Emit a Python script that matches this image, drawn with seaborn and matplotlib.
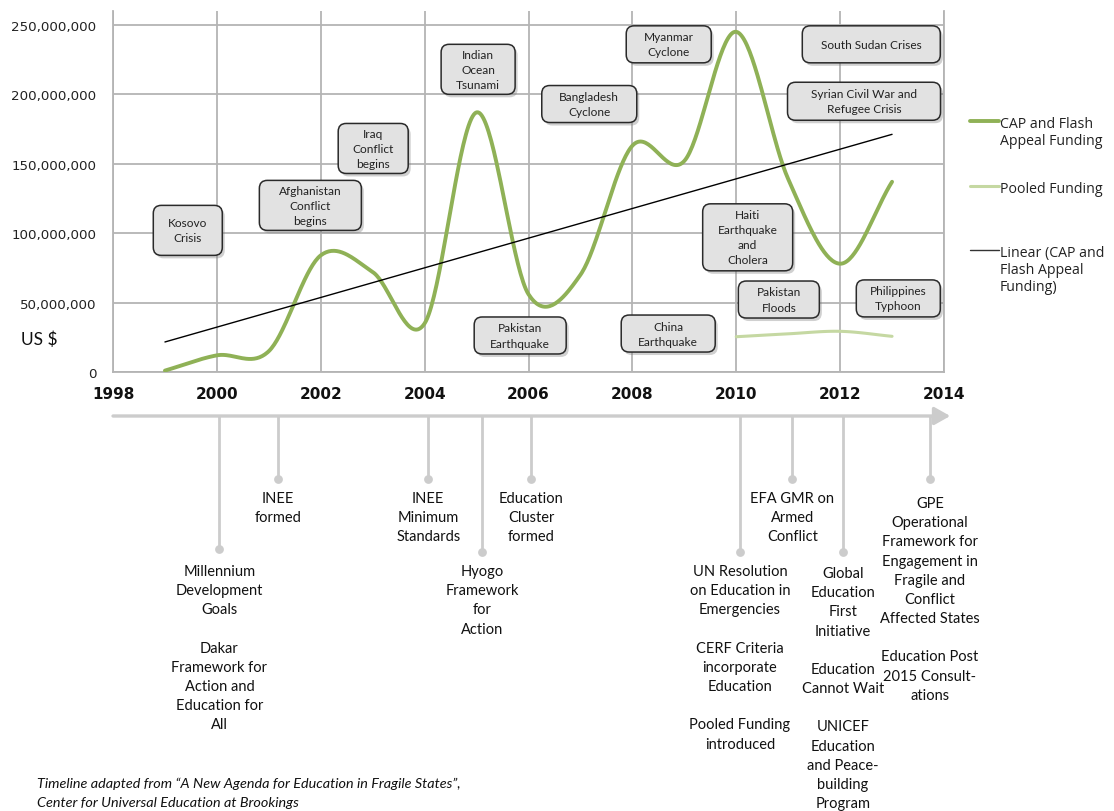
import numpy as np
import pandas as pd
import matplotlib
matplotlib.use("Agg")
import matplotlib.pyplot as plt
import matplotlib.transforms as mtransforms
from matplotlib.patches import FancyBboxPatch
from matplotlib.lines import Line2D
from matplotlib.ticker import FuncFormatter
import seaborn as sns

# ---------------- data ----------------
years = [1999, 2000, 2001, 2002, 2003, 2004, 2005, 2006, 2007, 2008, 2009, 2010, 2011, 2012, 2013]
cap_funding = [1e6, 12e6, 15e6, 84e6, 72e6, 35e6, 187e6, 56e6, 70e6, 163e6, 152e6, 245e6, 139e6, 78e6, 137e6]
pooled_years = [2010, 2011, 2012, 2013]
pooled_funding = [25.4e6, 27.5e6, 29.3e6, 25.7e6]
x_ticks = [1998, 2000, 2002, 2004, 2006, 2008, 2010, 2012, 2014]
y_ticks = [0, 50e6, 100e6, 150e6, 200e6, 250e6]

event_labels = ["Kosovo\nCrisis", "Afghanistan\nConflict\nbegins", "Iraq\nConflict\nbegins",
                "Indian\nOcean\nTsunami", "Bangladesh\nCyclone", "Myanmar\nCyclone",
                "South Sudan Crises", "Syrian Civil War and\nRefugee Crisis",
                "Haiti\nEarthquake\nand\nCholera", "Pakistan\nFloods", "Philippines\nTyphoon",
                "Pakistan\nEarthquake", "China\nEarthquake"]
event_x = [1999.44, 2001.8, 2003.01, 2005.03, 2007.17, 2008.70, 2012.6, 2012.46,
           2010.22, 2010.82, 2013.12, 2005.84, 2008.69]
event_y = [102e6, 120e6, 161e6, 218e6, 193e6, 236e6, 236e6, 195e6, 97e6, 52.2e6, 53e6, 26.3e6, 27.7e6]

timeline_labels = [
    "Millennium\nDevelopment\nGoals\n\nDakar\nFramework for\nAction and\nEducation for\nAll",
    "INEE\nformed",
    "INEE\nMinimum\nStandards",
    "Hyogo\nFramework\nfor\nAction",
    "Education\nCluster\nformed",
    "UN Resolution\non Education in\nEmergencies\n\nCERF Criteria\nincorporate\nEducation\n\nPooled Funding\nintroduced",
    "EFA GMR on\nArmed\nConflict",
    "Global\nEducation\nFirst\nInitiative\n\nEducation\nCannot Wait\n\nUNICEF\nEducation\nand Peace-\nbuilding\nProgram",
    "GPE\nOperational\nFramework for\nEngagement in\nFragile and\nConflict\nAffected States\n\nEducation Post\n2015 Consult-\nations",
]
timeline_x = [2000.05, 2001.17, 2004.07, 2005.11, 2006.05, 2010.07, 2011.08, 2012.05, 2013.73]

# ---------------- layout / style ----------------
event_box_px = [(69, 50), (102, 50), (70, 50), (74, 50), (95, 37), (85, 37), (138, 37), (153, 38),
                (90, 67), (81, 37), (84, 37), (92, 37), (94, 37)]
timeline_dot_px = [550, 480, 480, 553, 480, 553, 480, 553, 480]
timeline_text_px = [570, 497, 497, 570, 497, 570, 497, 572, 502]

GREEN = "#8fb156"
LIGHT_GREEN = "#c5d8a2"
GRID = "#b4b4b4"
TL_GRAY = "#cccccc"

sns.set_theme(style="white")
plt.rcParams["font.family"] = ["Lato", "DejaVu Sans"]


def smooth(x, y, n=40):
    """Excel-style smoothed line (Catmull-Rom / cubic Hermite through each point)."""
    x = np.asarray(x, float)
    y = np.asarray(y, float)
    m = np.empty_like(y)
    m[1:-1] = (y[2:] - y[:-2]) / 2
    m[0] = y[1] - y[0]
    m[-1] = y[-1] - y[-2]
    t = np.linspace(0, 1, n)
    h00 = 2 * t**3 - 3 * t**2 + 1
    h10 = t**3 - 2 * t**2 + t
    h01 = -2 * t**3 + 3 * t**2
    h11 = t**3 - t**2
    xs, ys = [], []
    for i in range(len(x) - 1):
        xs.append(x[i] + t * (x[i + 1] - x[i]))
        ys.append(h00 * y[i] + h10 * m[i] + h01 * y[i + 1] + h11 * m[i + 1])
    return np.concatenate(xs), np.concatenate(ys)


W, H = 1114, 812
fig = plt.figure(figsize=(W / 100, H / 100), dpi=100)
x_left, x_right, y_zero, y_top = 113, 944, 373, 12
ax = fig.add_axes([x_left / W, 1 - y_zero / H, (x_right - x_left) / W, (y_zero - y_top) / H])

cx, cy = smooth(years, cap_funding)
px, py = smooth(pooled_years, pooled_funding)
slope, intercept = np.polyfit(years, cap_funding, 1)
trend_x = np.array([years[0], years[-1]], float)
trend_y = slope * trend_x + intercept

df_cap = pd.DataFrame({"year": cx, "value": cy})
df_pool = pd.DataFrame({"year": px, "value": py})
df_trend = pd.DataFrame({"year": trend_x, "value": trend_y})

sns.lineplot(data=df_cap, x="year", y="value", ax=ax, color=GREEN, lw=2.8, sort=False,
             estimator=None, zorder=3)
sns.lineplot(data=df_pool, x="year", y="value", ax=ax, color=LIGHT_GREEN, lw=2.2, sort=False,
             estimator=None, zorder=3)
sns.lineplot(data=df_trend, x="year", y="value", ax=ax, color="black", lw=1.0, sort=False,
             estimator=None, zorder=3)

ax.set_xlim(1998, 2014)
ax.set_ylim(0, 260e6)
ax.set_xticks(x_ticks)
ax.set_yticks(y_ticks)
ax.yaxis.set_major_formatter(FuncFormatter(lambda v, p: f"{v:,.0f}"))
ax.grid(True, color=GRID, lw=1.3)
ax.set_axisbelow(True)
for s in ["left", "bottom", "right"]:
    ax.spines[s].set_color(GRID)
    ax.spines[s].set_linewidth(1.3)
ax.spines["top"].set_visible(False)
ax.tick_params(axis="both", direction="out", length=4, width=1.3, color=GRID)
ax.tick_params(axis="y", pad=8, labelsize=9.6, labelcolor="#222222")
ax.tick_params(axis="x", pad=6, labelsize=11, labelcolor="#111111")
for lab in ax.get_yticklabels():
    lab.set_fontfamily("DejaVu Sans")
for lab in ax.get_xticklabels():
    lab.set_fontfamily("DejaVu Sans")
    lab.set_fontweight("bold")
ax.set_xlabel("")
ax.set_ylabel("")

fig.text(39 / W, 1 - 340 / H, "US $", ha="center", va="center", fontsize=12.5, color="#111111")

# event boxes
for lab, xc, yc, (bw, bh) in zip(event_labels, event_x, event_y, event_box_px):
    base = fig.dpi_scale_trans + mtransforms.ScaledTranslation(xc, yc, ax.transData)
    wi, hi = bw / 100, bh / 100
    shadow = FancyBboxPatch((-wi / 2 + 0.025, -hi / 2 - 0.03), wi, hi,
                            boxstyle="round,pad=0,rounding_size=0.08",
                            transform=base, facecolor="#7a7a7a", edgecolor="none",
                            alpha=0.35, zorder=4, clip_on=False)
    box = FancyBboxPatch((-wi / 2, -hi / 2), wi, hi, boxstyle="round,pad=0,rounding_size=0.08",
                         transform=base, facecolor="#e2e2e2", edgecolor="#2a2a2a", lw=1.1,
                         zorder=5, clip_on=False)
    ax.add_patch(shadow)
    ax.add_patch(box)
    ax.text(xc, yc, lab, ha="center", va="center", multialignment="center", fontsize=8.6,
            linespacing=1.45, color="#222222", zorder=6)

# legend (drawn by hand to match the layout)
leg_items = [("CAP and Flash\nAppeal Funding", GREEN, 2.8, 122),
             ("Pooled Funding", LIGHT_GREEN, 2.2, 187),
             ("Linear (CAP and\nFlash Appeal\nFunding)", "#333333", 1.0, 251)]
for text, col, lw, ypx in leg_items:
    fig.add_artist(Line2D([970 / W, 999 / W], [1 - ypx / H, 1 - ypx / H], color=col, lw=lw))
    fig.text(1000 / W, 1 - (ypx - 5) / H, text, ha="left", va="top", fontsize=10.2,
             family=["Open Sans", "DejaVu Sans"], linespacing=1.17, color="#222222")

# timeline
ax2 = fig.add_axes([x_left / W, 0, (x_right - x_left) / W, 412 / H])
ax2.set_xlim(1998, 2014)
ax2.set_ylim(812, 400)
ax2.axis("off")
ax2.annotate("", xy=(2014.12, 417), xytext=(1998, 417),
             arrowprops=dict(arrowstyle="-|>,head_length=0.8,head_width=0.45", color=TL_GRAY,
                             lw=2.4, mutation_scale=12, shrinkA=0, shrinkB=0),
             annotation_clip=False)
for lab, xv, dy, ty in zip(timeline_labels, timeline_x, timeline_dot_px, timeline_text_px):
    ax2.plot([xv, xv], [417, dy], color=TL_GRAY, lw=2.0, solid_capstyle="butt")
    ax2.scatter([xv], [dy], s=40, color=TL_GRAY, zorder=3, linewidths=0)
    ax2.text(xv, ty - 5, lab, ha="center", va="top", multialignment="center", fontsize=10.5,
             linespacing=1.47, color="#111111")

fig.text(37 / W, 1 - 784 / H, "Timeline adapted from \u201cA New Agenda for Education in Fragile States\u201d,",
         ha="left", va="center", fontsize=10.4, style="italic", color="#111111")
fig.text(37 / W, 1 - 803 / H, "Center for Universal Education at Brookings",
         ha="left", va="center", fontsize=10.4, style="italic", color="#111111")

fig.savefig("out.png", dpi=100)
